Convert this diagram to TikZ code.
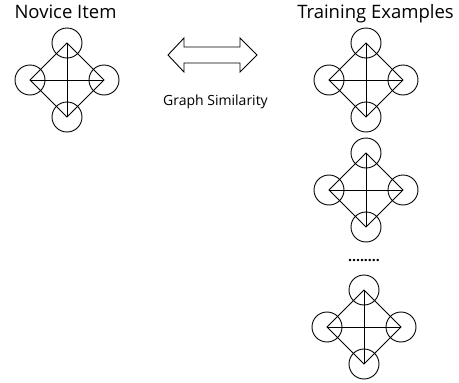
\documentclass[tikz,border=0pt]{standalone}
\usepackage{fontspec}
\setmainfont{Open Sans}
\begin{document}
\begin{tikzpicture}[x=1pt,y=-1pt,
  vtx/.style={draw,circle,minimum size=30pt,inner sep=0pt,line width=0.9pt},
  edge/.style={line width=0.9pt},
  title/.style={font=\fontsize{18.5}{21}\selectfont,anchor=base},
  sub/.style={font=\fontsize{14}{16}\selectfont,anchor=base}]
\useasboundingbox (0,0) rectangle (459,383);
\newcommand{\gdiamond}[3]{%
  \coordinate (#1c) at (#2,#3);
  \node[vtx] (#1t) at (#2,#3-37) {};
  \node[vtx] (#1b) at (#2,#3+37) {};
  \node[vtx] (#1l) at (#2-37,#3) {};
  \node[vtx] (#1r) at (#2+37,#3) {};
  \draw[edge] (#1t.center) -- (#1r.center) -- (#1b.center) -- (#1l.center) -- cycle;
  \draw[edge] (#1t.center) -- (#1b.center);
  \draw[edge] (#1l.center) -- (#1r.center);
}
\node[title] (nt) at (65.5,18) {Novice Item};
\node[title] (tt) at (375.5,18) {Training Examples};
\gdiamond{n}{67}{80}
\gdiamond{a}{366}{80}
\gdiamond{b}{366}{190}
\gdiamond{c}{364}{327}
\node[font=\bfseries\fontsize{14}{16}\selectfont,anchor=base] (dots) at (364,261) {........};
\draw[line width=0.9pt] (168,55) coordinate (arl) -- (184,38) -- (184,47) -- (240,47) -- (240,38)
  -- (257,55) coordinate (arr) -- (240,72) -- (240,63) -- (184,63) -- (184,72) -- cycle;
\node[sub] (gs) at (215.5,105) {Graph Similarity};
\end{tikzpicture}
\end{document}
